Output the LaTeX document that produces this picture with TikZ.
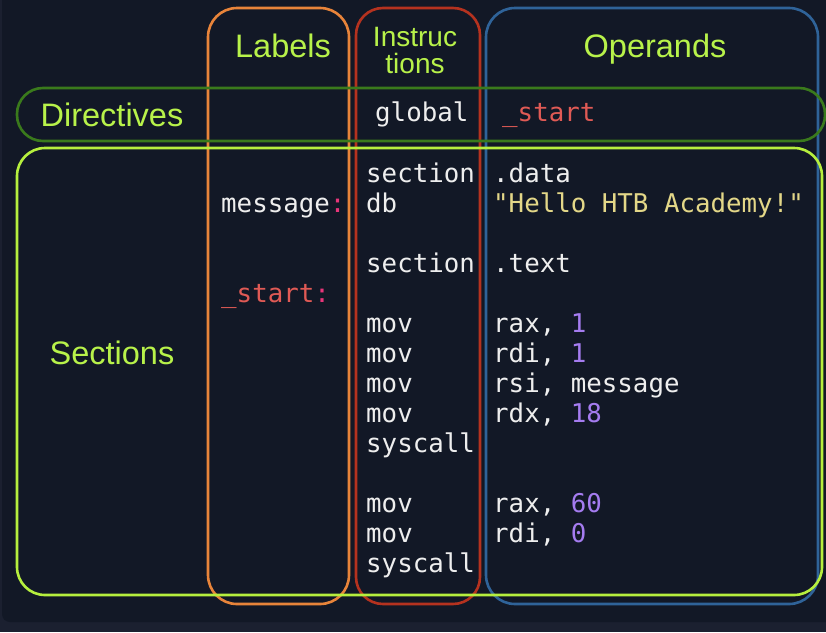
\documentclass[tikz,border=0pt]{standalone}
\usepackage{fontspec}
\setmainfont{Liberation Sans}
\newfontfamily\codefont{DejaVu Sans Mono}
\definecolor{bgout}{HTML}{1B2030}
\definecolor{bgpanel}{HTML}{121826}
\definecolor{lime}{HTML}{B8F24A}
\definecolor{boxorange}{HTML}{E8843A}
\definecolor{boxred}{HTML}{B5321F}
\definecolor{boxblue}{HTML}{2F6399}
\definecolor{boxdkgreen}{HTML}{3A7A1C}
\definecolor{boxlime}{HTML}{B6EF3E}
\definecolor{codewhite}{HTML}{EEEEEE}
\definecolor{codered}{HTML}{E05A55}
\definecolor{codepink}{HTML}{E8357A}
\definecolor{codepurple}{HTML}{A57CF0}
\definecolor{codeyellow}{HTML}{E3D788}
\tikzset{
  colbox/.style={line width=2.6pt, rounded corners=29pt},
  header/.style={inner sep=0pt, anchor=base, text=lime, font=\fontsize{32.5}{32}\selectfont},
  subheader/.style={inner sep=0pt, anchor=base, text=lime, font=\fontsize{28}{26}\selectfont},
  code/.style={inner sep=0pt, anchor=base west, text=codewhite, font=\codefont\fontsize{25.8}{30}\selectfont},
}
\begin{document}
\begin{tikzpicture}[x=1pt,y=-1pt]
\useasboundingbox (0,0) rectangle (826,632);
\fill[bgout] (0,0) rectangle (826,632);
\fill[bgpanel, rounded corners=8pt] (2,-20) rectangle (846,622);

% column boxes
\draw[colbox, boxorange] (208,8) rectangle (349,604);
\draw[colbox, boxred, rounded corners=27pt] (356,8) rectangle (480,604);
\draw[colbox, boxblue] (486,8) rectangle (818,604);
% row boxes
\draw[colbox, boxdkgreen, rounded corners=26pt] (17,88) rectangle (825,141);
\draw[colbox, boxlime, rounded corners=28pt] (17,148) rectangle (822,595);

% headers
\node[header] (hlabels) at (283,57) {Labels};
\node[subheader] (hinstr1) at (415,46) {Instruc};
\node[subheader] (hinstr2) at (415,73) {tions};
\node[header] (hoperands) at (655,57) {Operands};
\node[header] (hdirectives) at (112,126) {Directives};
\node[header] (hsections) at (112,364) {Sections};

% directives line
\node[code] (glob) at (375,121) {global};
\node[code, text=codered] (globarg) at (502,121) {\_start};

% labels
\node[code] (lmsg) at (221,212) {message\textcolor{codepink}{:}};
\node[code, text=codered] (lstart) at (221,302) {\_start\textcolor{codepink}{:}};

% instructions
\node[code] (i1) at (366,182) {section};
\node[code] (i2) at (366,212) {db};
\node[code] (i3) at (366,272) {section};
\node[code] (i4) at (366,332) {mov};
\node[code] (i5) at (366,362) {mov};
\node[code] (i6) at (366,392) {mov};
\node[code] (i7) at (366,422) {mov};
\node[code] (i8) at (366,452) {syscall};
\node[code] (i9) at (366,512) {mov};
\node[code] (i10) at (366,542) {mov};
\node[code] (i11) at (366,572) {syscall};

% operands
\node[code] (o1) at (493,182) {.data};
\node[code, text=codeyellow] (o2) at (493,212) {"Hello HTB Academy!"};
\node[code] (o3) at (493,272) {.text};
\node[code] (o4) at (493,332) {rax, \textcolor{codepurple}{1}};
\node[code] (o5) at (493,362) {rdi, \textcolor{codepurple}{1}};
\node[code] (o6) at (493,392) {rsi, message};
\node[code] (o7) at (493,422) {rdx, \textcolor{codepurple}{18}};
\node[code] (o9) at (493,512) {rax, \textcolor{codepurple}{60}};
\node[code] (o10) at (493,542) {rdi, \textcolor{codepurple}{0}};
\end{tikzpicture}
\end{document}
